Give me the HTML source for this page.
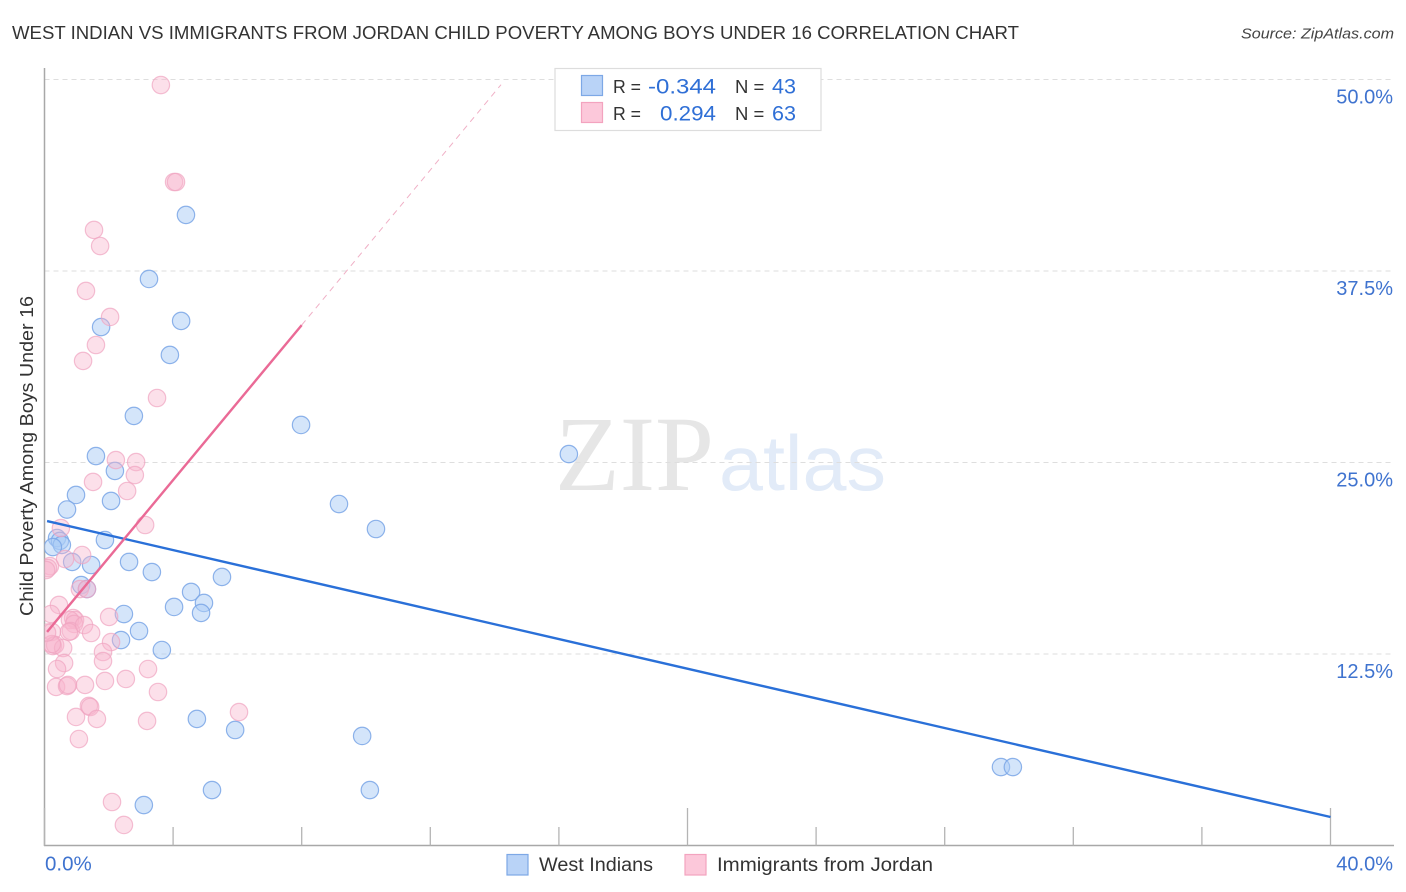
<!DOCTYPE html>
<html lang="en">
<head>
<meta charset="utf-8">
<title>West Indian vs Immigrants from Jordan Child Poverty Correlation Chart</title>
<style>
html,body{margin:0;padding:0;background:#fff;}
body{width:1406px;height:892px;overflow:hidden;}
svg{display:block;font-family:"Liberation Sans",sans-serif;}
</style>
</head>
<body>
<svg id="chart" width="1406" height="892" viewBox="0 0 1406 892" xmlns="http://www.w3.org/2000/svg">
  <defs><clipPath id="plot-clip"><rect x="44.5" y="60" width="1350" height="786"></rect></clipPath></defs>
  <text x="12" y="39" font-size="18.5" fill="#333" textLength="1007" lengthAdjust="spacingAndGlyphs">WEST INDIAN VS IMMIGRANTS FROM JORDAN CHILD POVERTY AMONG BOYS UNDER 16 CORRELATION CHART</text>
  <text x="1394" y="38.5" font-size="15" font-style="italic" fill="#444" text-anchor="end" textLength="153" lengthAdjust="spacingAndGlyphs">Source: ZipAtlas.com</text>
  <text transform="translate(33,456) rotate(-90)" font-size="18.5" fill="#333" text-anchor="middle" textLength="320" lengthAdjust="spacingAndGlyphs">Child Poverty Among Boys Under 16</text>
  <g>
    <text x="555" y="490" font-family="'Liberation Serif',serif" font-size="107" fill="#e6e6e6" textLength="159" lengthAdjust="spacingAndGlyphs">ZIP</text>
    <text x="719" y="490" font-size="78" fill="#e2ebf8" textLength="167" lengthAdjust="spacingAndGlyphs">atlas</text>
  </g>
  <g id="grid"></g>
  <g id="axes"></g>
  <g id="points" clip-path="url(#plot-clip)"></g>
  <g id="trends"></g>
  <g id="labels"></g>

  <g>
    <rect x="555" y="68.5" width="266" height="62" fill="#fff" stroke="#ddd" stroke-width="1.2"></rect>
    <rect x="581.5" y="75.5" width="21" height="20" fill="#b9d3f7" stroke="#7da8e6" stroke-width="1.2"></rect>
    <rect x="581.5" y="102.5" width="21" height="20" fill="#fcc8da" stroke="#f3a3bf" stroke-width="1.2"></rect>
    <text x="613" y="93" font-size="18.5" fill="#333" textLength="28" lengthAdjust="spacingAndGlyphs">R =</text>
    <text x="648" y="93.5" font-size="21" fill="#2f6fd6" textLength="68" lengthAdjust="spacingAndGlyphs">-0.344</text>
    <text x="735" y="93" font-size="18.5" fill="#333">N =</text>
    <text x="772" y="93.5" font-size="21" fill="#2f6fd6" textLength="24" lengthAdjust="spacingAndGlyphs">43</text>
    <text x="613" y="120" font-size="18.5" fill="#333" textLength="28" lengthAdjust="spacingAndGlyphs">R =</text>
    <text x="660" y="120.5" font-size="21" fill="#2f6fd6" textLength="56" lengthAdjust="spacingAndGlyphs">0.294</text>
    <text x="735" y="120" font-size="18.5" fill="#333">N =</text>
    <text x="772" y="120.5" font-size="21" fill="#2f6fd6" textLength="24" lengthAdjust="spacingAndGlyphs">63</text>
  </g>

  <g>
    <g>
      <rect x="507" y="854.5" width="21" height="20.5" fill="#b9d3f7" stroke="#7da8e6" stroke-width="1.2"></rect>
      <text x="539" y="871" font-size="19" fill="#333" textLength="114" lengthAdjust="spacingAndGlyphs">West Indians</text>
    </g>
    <g>
      <rect x="685" y="854.5" width="21" height="20.5" fill="#fcc8da" stroke="#f3a3bf" stroke-width="1.2"></rect>
      <text x="717" y="871" font-size="19" fill="#333" textLength="216" lengthAdjust="spacingAndGlyphs">Immigrants from Jordan</text>
    </g>
  </g>
</svg>
<script>
const westIndianX = [4.40,3.25,4.25,1.76,3.90,2.78,7.98,16.31,1.60,2.19,0.98,2.07,0.70,9.16,10.31,0.39,0.48,0.54,0.26,1.88,0.86,1.45,2.63,3.34,5.52,4.56,4.96,4.87,4.03,1.14,1.32,2.47,2.94,2.38,3.65,4.74,5.93,9.88,29.75,30.12,5.21,10.12,3.09];
const westIndianY = [41.16,36.98,34.24,33.84,32.02,28.04,27.45,25.55,25.42,24.45,22.88,22.49,21.93,22.29,20.66,20.07,19.88,19.62,19.48,19.94,18.51,18.31,18.51,17.85,17.53,16.55,15.83,15.18,15.57,17.00,16.74,15.11,14.00,13.41,12.76,8.26,7.54,7.15,5.12,5.12,3.62,3.62,2.64];
const jordanX = [3.62,4.03,4.09,1.54,1.73,1.29,2.04,1.60,1.20,3.50,2.22,2.85,2.81,2.57,1.51,3.13,0.51,1.17,0.64,0.17,0.11,0.05,1.10,1.32,0.45,0.20,0.89,0.95,0.79,0.92,0.82,0.76,1.23,1.45,2.01,0.23,0.26,0.33,0.58,0.23,2.07,1.82,1.82,0.61,0.39,3.22,0.36,0.70,0.73,1.26,1.88,2.53,3.53,6.05,1.38,1.42,0.98,1.63,3.19,1.07,2.10,2.47,0.08];
const jordanY = [49.64,43.31,43.31,40.18,39.13,36.20,34.50,32.67,31.63,29.21,25.16,25.03,24.18,23.14,23.73,20.92,20.72,18.96,18.70,18.24,18.11,17.98,16.74,16.74,15.70,15.11,14.85,14.72,14.72,14.46,14.00,13.94,14.39,13.87,14.92,13.94,13.02,13.09,12.89,13.15,13.28,12.63,12.04,11.91,11.52,11.52,10.35,10.41,10.48,10.48,10.74,10.87,10.02,8.71,9.11,9.04,8.39,8.26,8.13,6.95,2.84,1.34,13.90];
const westIndianTrendX = [0.08,40];
const westIndianTrendY = [21.18,1.86];
const jordanTrendX = [0.08,8];
const jordanTrendY = [13.94,33.97];
const jordanTrendDashX = [8,14.2];
const jordanTrendDashY = [33.97,49.66];
const xTickValues = [0,4,8,12,16,20,24,28,32,36,40];
const xMajorTicks = [0,20,40];
const xLabelValues = [0,40];
const xTickLabels = ["0.0%","40.0%"];
const yGridValues = [50,37.5,25,12.5];
const yTickLabels = ["50.0%","37.5%","25.0%","12.5%"];

const SVG_NS = 'http://www.w3.org/2000/svg';
function xScale(v){ return 44.5 + v * 32.15; }
function yScale(v){ return 845.5 - v * 15.32; }
function make(tag, parent, props){
  const el = document.createElementNS(SVG_NS, tag);
  for (const k in props) el.setAttribute(k, props[k]);
  parent.appendChild(el);
  return el;
}
const grid = document.getElementById('grid');
const axes = document.getElementById('axes');
const points = document.getElementById('points');
const trends = document.getElementById('trends');
const labels = document.getElementById('labels');

yGridValues.forEach(function(v, i){
  const line = make('line', grid, {x1:44.5, x2:1394, y1:yScale(v), y2:yScale(v), stroke:'#dedede', 'stroke-width':1, 'stroke-dasharray':'5 4'});
  
  
  const t = make('text', labels, {x:1393, y:yScale(v) + 24, 'font-size':20, fill:'#3f73cf', 'text-anchor':'end'});
  t.textContent = yTickLabels[i];
  
  
});

const yAxis = make('line', axes, {x1:44.5, x2:44.5, y1:68, y2:846, stroke:'#a8a8a8', 'stroke-width':1.5});


const xAxis = make('line', axes, {x1:44, x2:1394, y1:845.5, y2:845.5, stroke:'#a8a8a8', 'stroke-width':1.5});



xTickValues.forEach(function(v){
  const major = xMajorTicks.indexOf(v) >= 0;
  const tick = make('line', axes, {x1:xScale(v), x2:xScale(v), y1:major ? 808 : 827, y2:845.5, stroke:'#b4b4b4', 'stroke-width':1.3});
  
  
});

xLabelValues.forEach(function(v, i){
  const t = make('text', labels, {x:i === 0 ? 45 : 1393, y:870.5, 'font-size':i === 0 ? 20.5 : 20, fill:'#3f73cf', 'text-anchor':i === 0 ? 'start' : 'end'});
  t.textContent = xTickLabels[i];
  
  
});

westIndianX.forEach(function(v, i){
  const c = make('circle', points, {cx:xScale(v), cy:yScale(westIndianY[i]), r:8.7, fill:'rgba(170,204,246,0.5)', stroke:'#7aa6e6', 'stroke-width':1.2, 'stroke-opacity':0.85});
  
  
});
jordanX.forEach(function(v, i){
  const c = make('circle', points, {cx:xScale(v), cy:yScale(jordanY[i]), r:8.7, fill:'rgba(248,180,205,0.42)', stroke:'#f0a4c0', 'stroke-width':1.2, 'stroke-opacity':0.7});
  
  
});

const blueTrend = make('line', trends, {x1:xScale(westIndianTrendX[0]), y1:yScale(westIndianTrendY[0]), x2:xScale(westIndianTrendX[1]), y2:yScale(westIndianTrendY[1]), stroke:'#2a70d8', 'stroke-width':2.4});


const pinkTrend = make('line', trends, {x1:xScale(jordanTrendX[0]), y1:yScale(jordanTrendY[0]), x2:xScale(jordanTrendX[1]), y2:yScale(jordanTrendY[1]), stroke:'#ea6a96', 'stroke-width':2.4});


const pinkDash = make('line', trends, {x1:xScale(jordanTrendDashX[0]), y1:yScale(jordanTrendDashY[0]), x2:xScale(jordanTrendDashX[1]), y2:yScale(jordanTrendDashY[1]), stroke:'#f0b0c6', 'stroke-width':1, 'stroke-dasharray':'6 5'});


</script>
</body>
</html>
